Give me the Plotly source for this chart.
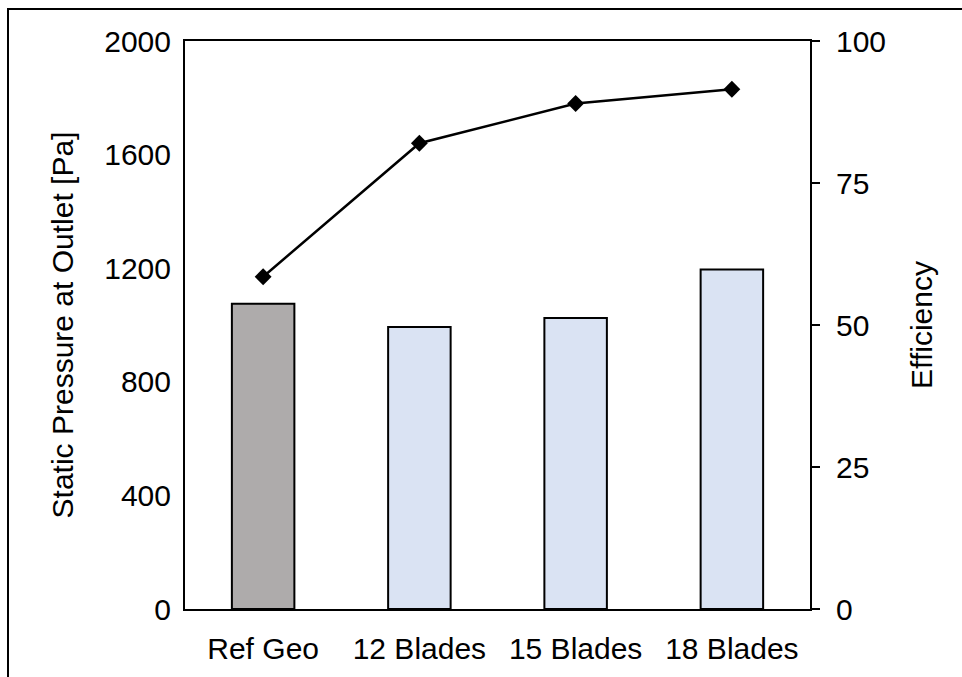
import plotly.graph_objects as go

categories = ["Ref Geo", "12 Blades", "15 Blades", "18 Blades"]
pressure = [1075, 993, 1025, 1195]
efficiency = [58.5, 82.0, 89.0, 91.5]
bar_colors = ["#AEABAB", "#DAE3F3", "#DAE3F3", "#DAE3F3"]
left_ticks = [0, 400, 800, 1200, 1600, 2000]
right_ticks = [0, 25, 50, 75, 100]

FONT = "Liberation Sans, Arial, sans-serif"
FS = 30

W, H = 962, 677
ML, MR, MT, MB = 185, 152, 41, 68
pw = W - ML - MR
ph = H - MT - MB

fig = go.Figure()
fig.add_trace(go.Bar(
    x=categories, y=pressure, width=0.4,
    marker=dict(color=bar_colors, line=dict(color="black", width=2)),
    yaxis="y", showlegend=False,
))
fig.add_trace(go.Scatter(
    x=categories, y=efficiency, mode="lines+markers",
    line=dict(color="black", width=2.5),
    marker=dict(symbol="diamond", size=13, color="black"),
    yaxis="y2", showlegend=False,
))

fig.update_layout(
    width=W, height=H,
    margin=dict(l=ML, r=MR, t=MT, b=MB),
    paper_bgcolor="white", plot_bgcolor="white",
    font=dict(family=FONT, size=FS, color="black"),
    xaxis=dict(
        showline=True, linecolor="black", linewidth=2, mirror=True,
        ticks="", showgrid=False, tickfont=dict(size=FS),
        ticklabelstandoff=12,
    ),
    yaxis=dict(
        range=[0, 2000], tickvals=left_ticks, showgrid=False,
        showline=True, linecolor="black", linewidth=2, mirror=True,
        ticks="", zeroline=False, ticklabelstandoff=6,
        title=dict(text="Static Pressure at Outlet [Pa]", font=dict(size=FS), standoff=22),
    ),
    yaxis2=dict(
        range=[0, 100], tickvals=right_ticks, overlaying="y", side="right",
        showgrid=False, showline=True, linecolor="black", linewidth=2,
        ticks="outside", ticklen=8, tickwidth=1.5, tickcolor="black",
        zeroline=False, ticklabelstandoff=10,
        title=dict(text="Efficiency", font=dict(size=FS), standoff=26),
    ),
    shapes=[dict(
        type="rect", xref="paper", yref="paper",
        x0=(8 - ML) / pw, x1=1.6,
        y0=-0.5, y1=(H - MB - 9) / ph,
        line=dict(color="black", width=2), fillcolor="rgba(0,0,0,0)", layer="below",
    )],
)

fig.write_html("out.html")
